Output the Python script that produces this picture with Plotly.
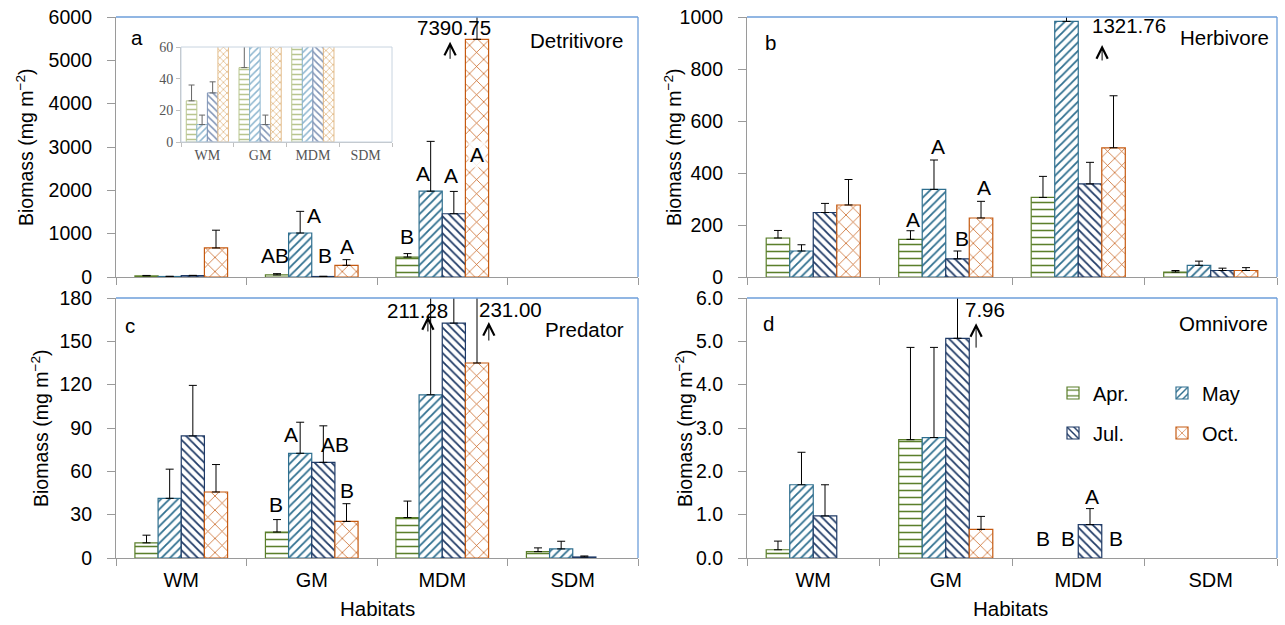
import plotly.graph_objects as go

# ---------------- data ----------------
cats = ["WM", "GM", "MDM", "SDM"]
months = ["Apr.", "May", "Jul.", "Oct."]

# a: Detritivore (bar heights as drawn; truncated bars labelled with true mean+SE)
det_apr = [26, 47, 460, None]
det_may = [11, 1015, 1980, None]
det_jul = [31, 11, 1460, None]
det_oct = [670, 270, 5485, None]
det_apr_se = [10, 30, 80, None]
det_may_se = [6, 500, 1150, None]
det_jul_se = [7, 6, 515, None]
det_oct_se = [410, 130, 1905.75, None]

# b: Herbivore
her_apr = [150, 145, 306, 19]
her_may = [100, 337, 983, 45]
her_jul = [248, 70, 358, 25]
her_oct = [277, 227, 497, 25]
her_apr_se = [29, 33, 81, 6]
her_may_se = [24, 113, 338.76, 16]
her_jul_se = [35, 30, 83, 9]
her_oct_se = [98, 64, 200, 11]

# c: Predator
pre_apr = [10.5, 18, 28, 4.4]
pre_may = [41.3, 72.5, 113, 6.3]
pre_jul = [84.5, 66.2, 162.6, 0.7]
pre_oct = [45.7, 25.3, 135, None]
pre_apr_se = [5.3, 8.6, 11.4, 2.6]
pre_may_se = [20.2, 21.5, 98.28, 5.3]
pre_jul_se = [35, 25.3, 30, 0.7]
pre_oct_se = [19, 12.3, 96, None]

# d: Omnivore
omn_apr = [0.19, 2.73, None, None]
omn_may = [1.69, 2.78, None, None]
omn_jul = [0.97, 5.07, 0.77, None]
omn_oct = [None, 0.66, None, None]
omn_apr_se = [0.2, 2.13, None, None]
omn_may_se = [0.75, 2.08, None, None]
omn_jul_se = [0.72, 2.89, 0.37, None]
omn_oct_se = [None, 0.3, None, None]

# significance letters: (panel, category index, offset in category units, y, text)
letters = [
    ("a", 1, -0.28, 500, "AB"), ("a", 1, 0.02, 1423, "A"), ("a", 1, 0.10, 500, "B"),
    ("a", 1, 0.27, 715, "A"), ("a", 2, -0.267, 938, "B"), ("a", 2, -0.15, 2400, "A"),
    ("a", 2, 0.07, 2346, "A"),
    ("b", 1, -0.25, 223, "A"), ("b", 1, -0.06, 502, "A"), ("b", 1, 0.12, 147, "B"),
    ("b", 1, 0.29, 345, "A"),
    ("c", 1, -0.274, 37.2, "B"), ("c", 1, -0.16, 85.5, "A"), ("c", 1, 0.18, 78.5, "AB"),
    ("c", 1, 0.27, 46.4, "B"),
    ("d", 2, -0.267, 0.45, "B"), ("d", 2, -0.08, 0.45, "B"), ("d", 2, 0.10, 1.42, "A"),
    ("d", 2, 0.282, 0.45, "B"),
]
# truncated bars: (panel, cat, text offset, text y, arrow offset, arrow tip y, arrow tail y, text)
trunc = [
    ("a", 2, 0.09, 5769, 0.06, 5430, 5000, "7390.75"),
    ("b", 2, 0.38, 969, 0.18, 892, 827, "1321.76"),
    ("c", 2, -0.19, 171.4, -0.11, 167.5, 155.8, "211.28"),
    ("c", 2, 0.525, 172.3, 0.357, 163.4, 149.5, "231.00"),
    ("d", 1, 0.293, 5.73, 0.229, 5.42, 4.82, "7.96"),
]

colors = ["#5b7f2b", "#2f6f8f", "#1f3a66", "#c55a11"]
pale = ["#b8c58e", "#8db6cf", "#7f93b5", "#e3bd8c"]
shapes_pat = ["-", "/", "\\", "x"]
pat_size = [7, 6, 6, 10]
pat_sol = [0.22, 0.3, 0.3, 0.14]

# the page body margin is removed by a post script, so window pixels = figure pixels
OFF = 0
W, H = 1285 - OFF, 625 - OFF
FONT = "Arial, Liberation Sans, sans-serif"
SERIF = "Times New Roman, Liberation Serif, serif"
GREY = "#9a9a9a"
BLUE = "#6d9eda"

def px(x):
    return (x - OFF) / W

def py(y):
    return 1 - (y - OFF) / H

panels = {
    "a": dict(ax="", dom_x=(116, 638), dom_y=(17, 277), rng=6000, dt=1000, fmt="d",
              data=[det_apr, det_may, det_jul, det_oct],
              se=[det_apr_se, det_may_se, det_jul_se, det_oct_se]),
    "b": dict(ax="2", dom_x=(747, 1277), dom_y=(17, 277), rng=1000, dt=200, fmt="d",
              data=[her_apr, her_may, her_jul, her_oct],
              se=[her_apr_se, her_may_se, her_jul_se, her_oct_se]),
    "c": dict(ax="3", dom_x=(116, 638), dom_y=(298, 558), rng=180, dt=30, fmt="d",
              data=[pre_apr, pre_may, pre_jul, pre_oct],
              se=[pre_apr_se, pre_may_se, pre_jul_se, pre_oct_se]),
    "d": dict(ax="4", dom_x=(747, 1277), dom_y=(298, 558), rng=6.0, dt=1.0, fmt=".1f",
              data=[omn_apr, omn_may, omn_jul, omn_oct],
              se=[omn_apr_se, omn_may_se, omn_jul_se, omn_oct_se]),
}

fig = go.Figure()
layout = dict(width=W, height=H, margin=dict(l=0, r=0, t=0, b=0, autoexpand=False),
              paper_bgcolor="white", plot_bgcolor="white",
              barmode="group", bargap=0.29, bargroupgap=0, hovermode=False,
              font=dict(family=FONT, size=19, color="black"))
annotations = []
shapes = []

for key, p in panels.items():
    ax = p["ax"]
    for i in range(4):
        se = p["se"][i]
        fig.add_trace(go.Bar(
            x=cats, y=p["data"][i], name=months[i],
            xaxis="x" + ax, yaxis="y" + ax,
            marker=dict(color="white", line=dict(color=colors[i], width=1.2),
                        pattern=dict(shape=shapes_pat[i], fgcolor=colors[i], bgcolor="white",
                                     size=pat_size[i], solidity=pat_sol[i], fillmode="replace")),
            error_y=dict(type="data", symmetric=False, array=se,
                         arrayminus=[0 if v is not None else None for v in se],
                         color="black", thickness=1, width=4),
            showlegend=(key == "d"),
            legend="legend" if i < 2 else "legend2",
        ))
    xk = "xaxis" + ax
    yk = "yaxis" + ax
    bottom = key in ("c", "d")
    layout[xk] = dict(domain=[px(p["dom_x"][0]), px(p["dom_x"][1])], anchor="y" + ax,
                      type="category", range=[-0.5, 3.5], tickson="boundaries",
                      ticks="outside", ticklen=7, tickcolor=GREY, showline=True,
                      linecolor=GREY, linewidth=1.2, showgrid=False, zeroline=False,
                      automargin=False, ticklabelstandoff=4, ticklabeloverflow="allow",
                      showticklabels=bottom, tickfont=dict(size=20, family=FONT))
    layout[yk] = dict(domain=[py(p["dom_y"][1]), py(p["dom_y"][0])], anchor="x" + ax,
                      range=[0, p["rng"]], dtick=p["dt"], tick0=0, tickformat=p["fmt"],
                      ticks="outside", ticklen=8, tickcolor=GREY, showline=True,
                      linecolor=GREY, linewidth=1.2, showgrid=False, zeroline=False,
                      automargin=False, ticklabelstandoff=11, ticklabeloverflow="allow",
                      tickfont=dict(size=19.5, family=FONT))
    # blue top and right frame
    dref = "x" + ax + " domain"
    yref = "y" + ax + " domain"
    shapes.append(dict(type="line", xref=dref, yref=yref, x0=0, x1=1, y0=1, y1=1,
                       line=dict(color=BLUE, width=1.3)))
    shapes.append(dict(type="line", xref=dref, yref=yref, x0=1, x1=1, y0=0, y1=1,
                       line=dict(color=BLUE, width=1.3)))
    # y title
    tx = {"a": 25, "b": 673, "c": 40, "d": 684}[key]
    ymid = (p["dom_y"][0] + p["dom_y"][1]) / 2
    annotations.append(dict(text="Biomass (mg m<sup>\u22122</sup>)", xref="paper", yref="paper",
                            x=px(tx), y=py(ymid), showarrow=False, textangle=-90,
                            font=dict(size=19.5, family=FONT), xanchor="center", yanchor="middle"))

# inset of panel a (same detritivore data, zoomed to 0-60)
for i in range(4):
    se = panels["a"]["se"][i]
    fig.add_trace(go.Bar(
        x=cats, y=panels["a"]["data"][i], name=months[i], xaxis="x5", yaxis="y5",
        width=0.2, offset=-0.4 + 0.2 * i,
        marker=dict(color="white", line=dict(color=pale[i], width=1),
                    pattern=dict(shape=shapes_pat[i], fgcolor=pale[i], bgcolor="white",
                                 size=5, solidity=0.3, fillmode="replace")),
        error_y=dict(type="data", symmetric=False, array=se,
                     arrayminus=[0 if v is not None else None for v in se],
                     color="#666666", thickness=1, width=3),
        showlegend=False,
    ))
layout["xaxis5"] = dict(domain=[px(181), px(392)], anchor="y5", type="category",
                        range=[-0.5, 3.5], tickson="boundaries", ticks="outside", ticklen=4,
                        tickcolor="#c0c0c0", showline=True, linecolor="#c0c0c0", linewidth=1,
                        showgrid=False, zeroline=False, automargin=False,
                        tickfont=dict(size=14, family=SERIF, color="#555555"))
layout["yaxis5"] = dict(domain=[py(142), py(47)], anchor="x5", range=[0, 60], dtick=20,
                        ticks="outside", ticklen=4, tickcolor="#c0c0c0", showline=True,
                        linecolor="#c0c0c0", linewidth=1, showgrid=False, zeroline=False,
                        automargin=False, ticklabeloverflow="allow",
                        tickfont=dict(size=14, family=SERIF, color="#555555"))
shapes.append(dict(type="rect", xref="x5 domain", yref="y5 domain", x0=0, x1=1, y0=0, y1=1,
                   line=dict(color="#c8d4e0", width=1)))

# letters
for key, ci, off, yv, txt in letters:
    ax = panels[key]["ax"]
    annotations.append(dict(text=txt, x=ci + off, y=yv, xref="x" + ax, yref="y" + ax,
                            showarrow=False, font=dict(size=21, family=FONT),
                            xanchor="center", yanchor="middle"))
# the "A" inside the MDM October detritivore bar
annotations.append(dict(text="A", x=2 + 0.266, y=2830, xref="x", yref="y", showarrow=False,
                        font=dict(size=21, family=FONT), bgcolor="rgba(255,255,255,0.85)",
                        xanchor="center", yanchor="middle", borderpad=1))

# truncated-value labels and arrows
for key, ci, toff, ty, aoff, tip, tail, txt in trunc:
    ax = panels[key]["ax"]
    annotations.append(dict(text=txt, x=ci + toff, y=ty, xref="x" + ax, yref="y" + ax,
                            showarrow=False, font=dict(size=20.5, family=FONT),
                            xanchor="center", yanchor="middle"))
    annotations.append(dict(text="", x=ci + aoff, y=tip, xref="x" + ax, yref="y" + ax,
                            ax=ci + aoff, ay=tail, axref="x" + ax, ayref="y" + ax,
                            showarrow=True, arrowhead=5, arrowsize=2.2, arrowwidth=1,
                            arrowcolor="black", standoff=0, startstandoff=0))

# panel labels and titles
for txt, x, y in [("a", 137, 38), ("Detritivore", 576, 40),
                  ("b", 770, 42), ("Herbivore", 1224, 37),
                  ("c", 130, 325), ("Predator", 584, 329),
                  ("d", 768, 323), ("Omnivore", 1223, 323),
                  ("Habitats", 377, 608), ("Habitats", 1010, 608)]:
    annotations.append(dict(text=txt, x=px(x), y=py(y), xref="paper", yref="paper",
                            showarrow=False, font=dict(size=20.5, family=FONT),
                            xanchor="center", yanchor="middle"))

legend_common = dict(orientation="h", xanchor="left", yanchor="middle",
                     font=dict(size=20, family=FONT), bgcolor="rgba(0,0,0,0)",
                     entrywidth=64, entrywidthmode="pixels", itemwidth=30,
                     traceorder="normal")
layout["legend"] = dict(x=px(1053), y=py(393), **legend_common)
layout["legend2"] = dict(x=px(1053), y=py(433), **legend_common)

layout["annotations"] = annotations
layout["shapes"] = shapes
fig.update_layout(**layout)
fig.write_html("out.html", config={"displayModeBar": False},
               post_script="document.body.style.margin='0';document.body.style.overflow='hidden';")
